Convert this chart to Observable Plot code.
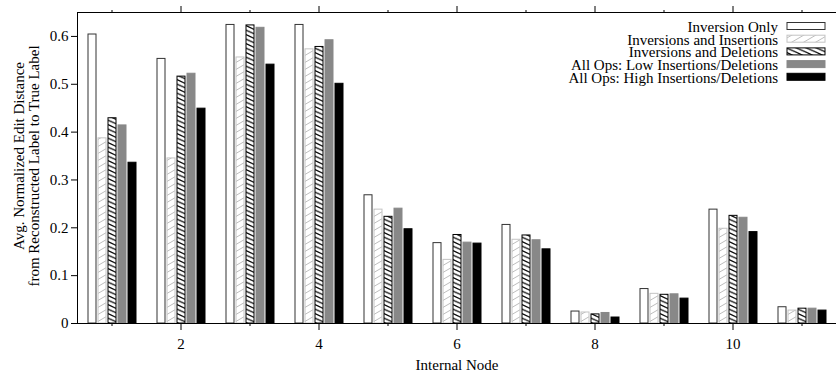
<!DOCTYPE html>
<html><head><meta charset="utf-8">
<script src="https://cdn.jsdelivr.net/npm/d3@7"></script>
<script src="https://cdn.jsdelivr.net/npm/@observablehq/plot@0.6"></script>
<style>
body{margin:0;background:#fff;}
#wrap{position:relative;width:838px;height:372px;font-family:"Liberation Serif","Times New Roman",serif;}
#legend{position:absolute;left:0;top:0;pointer-events:none;}
</style></head><body>
<svg width="0" height="0" style="position:absolute">
  <defs>
    <pattern id="hatchLight" patternUnits="userSpaceOnUse" width="12" height="7">
      <rect width="12" height="7" fill="#fff"/>
      <path d="M-1,7.58 L13,-0.58 M-1,14.58 L13,6.42 M-1,0.58 L13,-7.58" stroke="#bdbdbd" stroke-width="1" fill="none"/>
    </pattern>
    <pattern id="hatchDark" patternUnits="userSpaceOnUse" width="10" height="4.5">
      <rect width="10" height="4.5" fill="#fff"/>
      <path d="M-1,-0.45 L11,4.95 M-1,-4.95 L11,0.45 M-1,4.05 L11,9.45" stroke="#000" stroke-width="1.2" fill="none"/>
    </pattern>
  </defs>
</svg>
<div id="wrap"></div>
<script>
// ---- data ----
const nodes = [1, 2, 3, 4, 5, 6, 7, 8, 9, 10, 11];
const seriesNames = [
  "Inversion Only",
  "Inversions and Insertions",
  "Inversions and Deletions",
  "All Ops: Low Insertions/Deletions",
  "All Ops: High Insertions/Deletions"
];
const inversionOnly      = [0.604, 0.553, 0.624, 0.624, 0.268, 0.168, 0.206, 0.025, 0.072, 0.238, 0.034];
const inversionsInsert   = [0.387, 0.345, 0.556, 0.573, 0.238, 0.133, 0.175, 0.023, 0.062, 0.198, 0.027];
const inversionsDelete   = [0.429, 0.516, 0.623, 0.578, 0.223, 0.185, 0.184, 0.019, 0.060, 0.225, 0.031];
const allOpsLow          = [0.414, 0.522, 0.618, 0.592, 0.240, 0.169, 0.174, 0.022, 0.061, 0.221, 0.031];
const allOpsHigh         = [0.336, 0.449, 0.541, 0.501, 0.197, 0.167, 0.155, 0.0125, 0.052, 0.191, 0.027];
const yTicks = [0, 0.1, 0.2, 0.3, 0.4, 0.5, 0.6];
const xMajorTicks = [2, 4, 6, 8, 10];
const xMinorTicks = [1, 3, 5, 7, 9, 11];
const xLabel = "Internal Node";
const yLabelLines = ["Avg. Normalized Edit Distance", "from Reconstructed Label to True Label"];

// ---- styles ----
const fills   = ["#ffffff", "url(#hatchLight)", "url(#hatchDark)", "#888888", "#000000"];
const strokes = ["#333333", "#c4c4c4", "#000000", "#888888", "#000000"];

const seriesValues = [inversionOnly, inversionsInsert, inversionsDelete, allOpsLow, allOpsHigh];
const data = [];
nodes.forEach((n, i) => seriesValues.forEach((vals, s) => data.push({node: n, series: seriesNames[s], value: vals[i], s})));

const FONT = "Liberation Serif, Times New Roman, serif";

const chart = Plot.plot({
  width: 838, height: 372,
  marginLeft: 76, marginRight: 1, marginTop: 12, marginBottom: 49,
  style: {fontFamily: FONT, fontSize: "15px", color: "#000", background: "#fff"},
  fx: {domain: nodes, padding: 0, axis: null},
  x: {domain: seriesNames, axis: null, paddingInner: 0.22, paddingOuter: 0, insetLeft: 10, insetRight: 10},
  y: {domain: [0, 0.65], axis: null},
  color: {type: "identity"},
  marks: [
    Plot.barY(data, {fx: "node", x: "series", y: "value", fill: d => fills[d.s], stroke: d => strokes[d.s], strokeWidth: 1}),
    Plot.ruleY([0], {stroke: "#000"}),
    Plot.ruleY([0.65], {stroke: "#000"}),
    Plot.frame({anchor: "left", facetAnchor: "left", stroke: "#000"}),
    Plot.axisY({ticks: yTicks, tickSize: 6, tickPadding: 3, tickFormat: d => d === 0 ? "0" : d.toFixed(1), label: null}),
    Plot.axisFx({anchor: "bottom", ticks: xMajorTicks, tickSize: 7, tickPadding: 8, label: xLabel, labelAnchor: "center", labelArrow: "none", labelOffset: 46}),
    Plot.axisFx({anchor: "bottom", ticks: xMinorTicks, tickSize: 3, fill: "none", label: null}),
    Plot.axisFx({anchor: "top", ticks: xMajorTicks, tickSize: 7, fill: "none", label: null}),
    Plot.axisFx({anchor: "top", ticks: xMinorTicks, tickSize: 3, fill: "none", label: null}),
    Plot.text([yLabelLines[0]], {text: d => d, frameAnchor: "left", facetAnchor: "left", textAnchor: "middle", rotate: -90, dx: -58, dy: -12, fontSize: 15}),
    Plot.text([yLabelLines[1]], {text: d => d, frameAnchor: "left", facetAnchor: "left", textAnchor: "middle", rotate: -90, dx: -43, dy: -2, fontSize: 15})
  ]
});
const wrap = document.getElementById("wrap");
wrap.appendChild(chart);

// ---- legend ----
const lg = d3.select(wrap).append("svg").attr("id", "legend").attr("width", 838).attr("height", 372);
seriesNames.forEach((name, i) => {
  const cy = 26 + i * 12.7;
  lg.append("text").attr("x", 778).attr("y", cy + 6).attr("text-anchor", "end")
    .attr("font-family", FONT).attr("font-size", 15).attr("fill", "#000").text(name);
  lg.append("rect").attr("x", 787).attr("y", cy - 3.5).attr("width", 38).attr("height", 7)
    .attr("fill", fills[i]).attr("stroke", strokes[i]).attr("stroke-width", 1);
});
</script>
</body></html>
